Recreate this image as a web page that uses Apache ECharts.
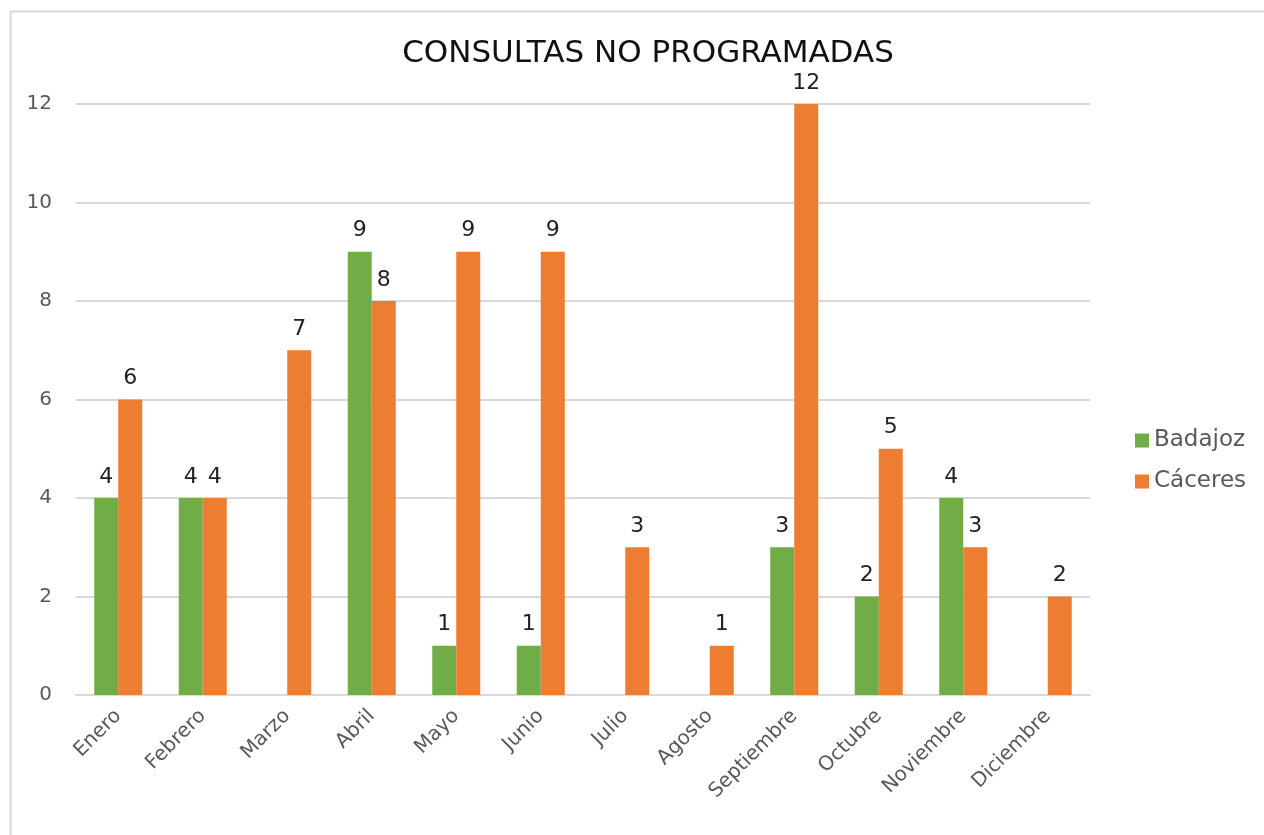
<!DOCTYPE html>
<html>
<head>
<meta charset="utf-8">
<script src="https://cdn.jsdelivr.net/npm/echarts@6/dist/echarts.min.js"></script>
<style>
  html, body { margin: 0; padding: 0; background: #fff; }
  #chart { width: 1264px; height: 835px; }
</style>
</head>
<body>
<div id="chart"></div>
<script>
// Consultas no programadas por mes
const months = ['Enero', 'Febrero', 'Marzo', 'Abril', 'Mayo', 'Junio', 'Julio',
                'Agosto', 'Septiembre', 'Octubre', 'Noviembre', 'Diciembre'];
const badajoz = [4, 4, null, 9, 1, 1, null, null, 3, 2, 4, null];
const caceres = [6, 4, 7, 8, 9, 9, 3, 1, 12, 5, 3, 2];
const yTicks = [0, 2, 4, 6, 8, 10, 12];

const font = '"DejaVu Sans", sans-serif';

const chart = echarts.init(document.getElementById('chart'));

function barLabel() {
    return {
        show: true,
        position: 'top',
        distance: 10,
        color: '#222',
        fontSize: 22,
        fontFamily: font
    };
}

chart.setOption({
    animation: false,
    title: {
        text: 'CONSULTAS NO PROGRAMADAS',
        left: 643,
        textAlign: 'center',
        top: 33,
        textStyle: { fontSize: 31, fontWeight: 'normal', color: '#111', fontFamily: font }
    },
    graphic: [{
        type: 'rect',
        shape: { x: 10.5, y: 11.5, width: 1300, height: 900 },
        style: { fill: 'none', stroke: '#d9d9d9', lineWidth: 2 },
        silent: true
    }],
    legend: {
        orient: 'vertical',
        left: 1130,
        top: 424,
        icon: 'rect',
        itemWidth: 14,
        itemHeight: 14,
        itemGap: 18,
        textStyle: { fontSize: 23, color: '#595959', fontFamily: font },
        data: ['Badajoz', 'Cáceres']
    },
    grid: { left: 76, right: 174, top: 104, bottom: 140, containLabel: false },
    xAxis: {
        type: 'category',
        data: months,
        axisLine: { lineStyle: { color: '#d9d9d9', width: 2 } },
        axisTick: { show: false },
        axisLabel: {
            rotate: 45,
            margin: 18,
            interval: 0,
            fontSize: 20,
            color: '#595959',
            fontFamily: font
        }
    },
    yAxis: {
        type: 'value',
        min: yTicks[0],
        max: yTicks[yTicks.length - 1],
        interval: 2,
        axisLine: { show: false },
        axisTick: { show: false },
        splitLine: { lineStyle: { color: '#d9d9d9', width: 2 } },
        axisLabel: { fontSize: 20, color: '#595959', margin: 24, fontFamily: font }
    },
    series: [
        {
            name: 'Badajoz',
            type: 'bar',
            data: badajoz,
            barWidth: 24,
            barGap: '0%',
            itemStyle: { color: '#70ad47' },
            label: barLabel()
        },
        {
            name: 'Cáceres',
            type: 'bar',
            data: caceres,
            barWidth: 24,
            barGap: '0%',
            itemStyle: { color: '#ed7d31' },
            label: barLabel()
        }
    ]
});
</script>
</body>
</html>
